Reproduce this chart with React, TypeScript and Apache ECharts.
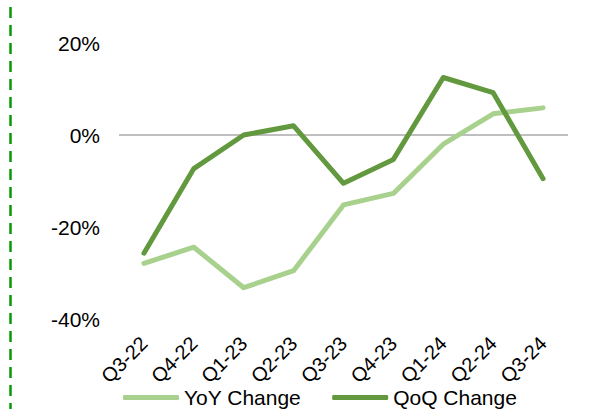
import React, { useEffect, useRef } from "react";
import * as echarts from "echarts";

const categories = ["Q3-22", "Q4-22", "Q1-23", "Q2-23", "Q3-23", "Q4-23", "Q1-24", "Q2-24", "Q3-24"];
const yoyChange = [-27.9, -24.4, -33.2, -29.5, -15.2, -12.7, -2.0, 4.6, 5.9];
const qoqChange = [-25.7, -7.3, 0.0, 2.0, -10.5, -5.3, 12.5, 9.2, -9.5];
const seriesNames = ["YoY Change", "QoQ Change"];

const FONT = "'Liberation Sans', Arial, sans-serif";

export default function App() {
  const ref = useRef<HTMLDivElement>(null);
  useEffect(() => {
    if (!ref.current) return;
    const chart = echarts.init(ref.current, undefined, { renderer: "svg" });
    chart.setOption({
      animation: false,
      backgroundColor: "#ffffff",
      grid: { left: 119, right: 30, top: 43, bottom: 90, containLabel: false },
      legend: {
        left: 123,
        top: 387,
        padding: 0,
        itemWidth: 56,
        itemHeight: 5,
        itemGap: 31,
        icon: "roundRect",
        textStyle: { fontFamily: FONT, fontSize: 21, lineHeight: 20, color: "#000" },
        data: seriesNames,
      },
      xAxis: {
        type: "category",
        data: categories,
        boundaryGap: true,
        axisLine: { show: false },
        axisTick: { show: false },
        splitLine: { show: false },
        axisLabel: {
          rotate: 45,
          margin: 21,
          fontFamily: FONT,
          fontSize: 20,
          color: "#000",
          interval: 0,
        },
      },
      yAxis: {
        type: "value",
        min: -40,
        max: 20,
        interval: 20,
        axisLine: { show: false },
        axisTick: { show: false },
        splitLine: { show: false },
        axisLabel: {
          margin: 19,
          fontFamily: FONT,
          fontSize: 21,
          color: "#000",
          formatter: (v: number) => `${v}%`,
        },
      },
      series: [
        {
          name: seriesNames[0],
          type: "line",
          data: yoyChange,
          symbol: "none",
          lineStyle: { color: "#A9D18E", width: 5, cap: "round", join: "round" },
          itemStyle: { color: "#A9D18E" },
          z: 3,
          markLine: {
            silent: true,
            symbol: "none",
            label: { show: false },
            lineStyle: { color: "#BFBFBF", width: 2, type: "solid" },
            data: [{ yAxis: 0 }],
            z: 1,
          },
        },
        {
          name: seriesNames[1],
          type: "line",
          data: qoqChange,
          symbol: "none",
          lineStyle: { color: "#62993E", width: 5, cap: "round", join: "round" },
          itemStyle: { color: "#62993E" },
          z: 4,
        },
      ],
      graphic: [
        {
          type: "line",
          shape: { x1: 10.5, y1: 7, x2: 10.5, y2: 409 },
          style: { stroke: "#079A07", lineWidth: 2.5, lineDash: [11, 7] },
        },
      ],
    });
    return () => chart.dispose();
  }, []);
  return (
    <div
      ref={ref}
      style={{ position: "absolute", left: 0, top: 0, width: 598, height: 409 }}
    />
  );
}
